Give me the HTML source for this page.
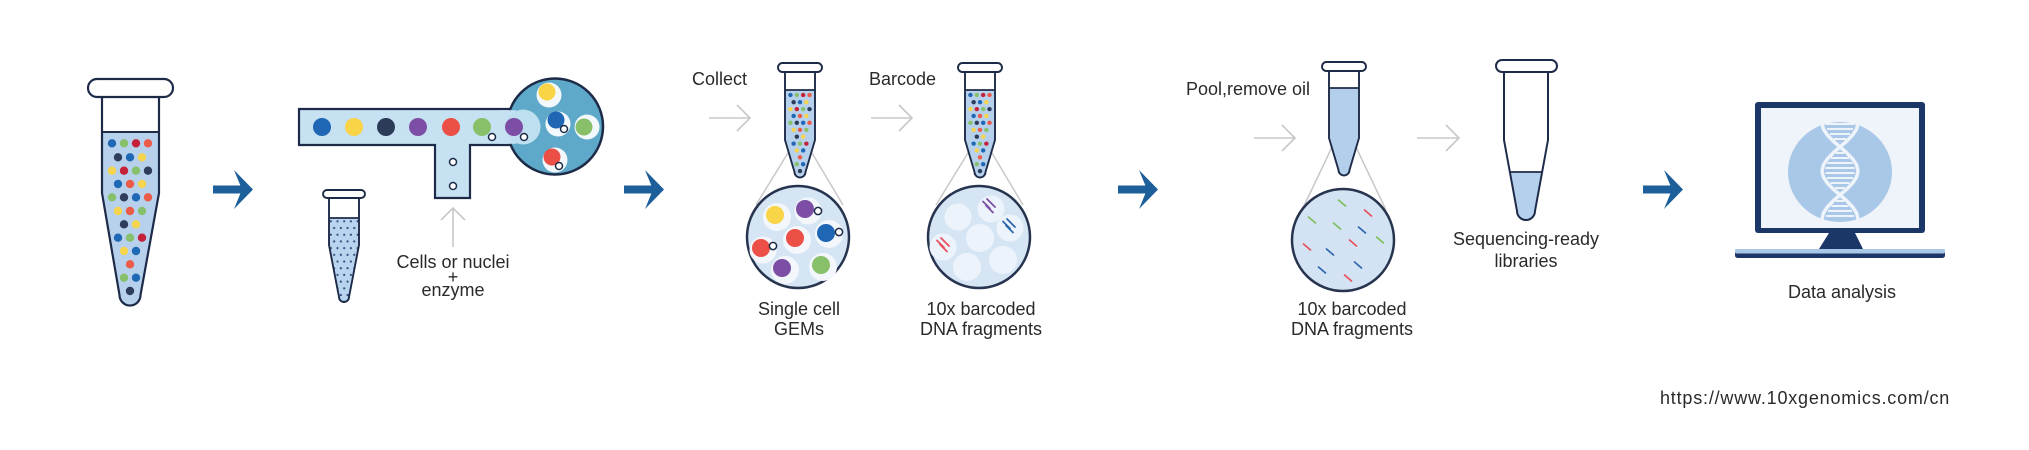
<!DOCTYPE html>
<html>
<head>
<meta charset="utf-8">
<style>
  html, body { margin: 0; padding: 0; background: #ffffff; }
  body { width: 2029px; height: 450px; overflow: hidden; }
  svg { display: block; }
  text { font-family: "Liberation Sans", sans-serif; font-size: 18px; fill: #2a2a2a; }
</style>
</head>
<body>
<svg width="2029" height="450" viewBox="0 0 2029 450" xmlns="http://www.w3.org/2000/svg">
  <defs>
    <g id="dots">
      <circle cx="112" cy="143.3" r="4.2" fill="#1f68b5"/>
      <circle cx="124" cy="143.3" r="4.2" fill="#86c06b"/>
      <circle cx="136" cy="143.3" r="4.2" fill="#c4213b"/>
      <circle cx="148" cy="143.3" r="4.2" fill="#ec5a48"/>
      <circle cx="118" cy="157.3" r="4.2" fill="#2e3d5a"/>
      <circle cx="130" cy="157.3" r="4.2" fill="#1f68b5"/>
      <circle cx="142" cy="157.3" r="4.2" fill="#f5d44e"/>
      <circle cx="112" cy="170.7" r="4.2" fill="#f5d44e"/>
      <circle cx="124" cy="170.7" r="4.2" fill="#c4213b"/>
      <circle cx="136" cy="170.7" r="4.2" fill="#86c06b"/>
      <circle cx="148" cy="170.7" r="4.2" fill="#2e3d5a"/>
      <circle cx="118" cy="184" r="4.2" fill="#1f68b5"/>
      <circle cx="130" cy="184" r="4.2" fill="#ec5a48"/>
      <circle cx="142" cy="184" r="4.2" fill="#f5d44e"/>
      <circle cx="112" cy="197.3" r="4.2" fill="#86c06b"/>
      <circle cx="124" cy="197.3" r="4.2" fill="#2e3d5a"/>
      <circle cx="136" cy="197.3" r="4.2" fill="#1f68b5"/>
      <circle cx="148" cy="197.3" r="4.2" fill="#ec5a48"/>
      <circle cx="118" cy="211" r="4.2" fill="#f5d44e"/>
      <circle cx="130" cy="211" r="4.2" fill="#ec5a48"/>
      <circle cx="142" cy="211" r="4.2" fill="#86c06b"/>
      <circle cx="124" cy="224.3" r="4.2" fill="#2e3d5a"/>
      <circle cx="136" cy="224.3" r="4.2" fill="#f5d44e"/>
      <circle cx="118" cy="237.7" r="4.2" fill="#1f68b5"/>
      <circle cx="130" cy="237.7" r="4.2" fill="#86c06b"/>
      <circle cx="142" cy="237.7" r="4.2" fill="#c4213b"/>
      <circle cx="124" cy="251" r="4.2" fill="#f5d44e"/>
      <circle cx="136" cy="251" r="4.2" fill="#1f68b5"/>
      <circle cx="130" cy="264.3" r="4.2" fill="#ec5a48"/>
      <circle cx="124" cy="277.7" r="4.2" fill="#86c06b"/>
      <circle cx="136" cy="277.7" r="4.2" fill="#1f68b5"/>
      <circle cx="130" cy="291" r="4.2" fill="#2e3d5a"/>
    </g>
    <pattern id="dotpat" x="329" y="218" width="6.7" height="13.4" patternUnits="userSpaceOnUse">
      <circle cx="1.8" cy="3.3" r="1.1" fill="#2e4a7a"/>
      <circle cx="5.15" cy="10" r="1.1" fill="#2e4a7a"/>
    </pattern>
  </defs>

  <rect x="0" y="0" width="2029" height="450" fill="#ffffff"/>

  <!-- ===== Tube 1 ===== -->
  <path d="M102,97 V193 L119.5,295 A10.5,10.5 0 0 0 140.5,295 L159,193 V97 Z" fill="#b7d1ec"/>
  <rect x="102" y="97" width="57" height="35" fill="#ffffff"/>
  <use href="#dots"/>
  <line x1="102" y1="132" x2="159" y2="132" stroke="#1d2b48" stroke-width="2"/>
  <path d="M102,97 V193 L119.5,295 A10.5,10.5 0 0 0 140.5,295 L159,193 V97" fill="none" stroke="#1d2b48" stroke-width="2.2" stroke-linejoin="round"/>
  <rect x="88" y="79" width="85" height="18" rx="9" fill="#ffffff" stroke="#1d2b48" stroke-width="2.2"/>

  <!-- Big arrows -->
  <g fill="#1c5f9a">
    <rect x="213" y="185.5" width="29" height="8"/>
    <polygon points="234,170 253,189.5 234,209 242,189.5"/>
    <rect x="624" y="185.5" width="29" height="8"/>
    <polygon points="645,170 664,189.5 645,209 653,189.5"/>
    <rect x="1118" y="185.5" width="29" height="8"/>
    <polygon points="1139,170 1158,189.5 1139,209 1147,189.5"/>
    <rect x="1643" y="185.5" width="29" height="8"/>
    <polygon points="1664,170 1683,189.5 1664,209 1672,189.5"/>
  </g>

  <!-- ===== Microfluidic chip ===== -->
  <polygon points="299,109 515,109 515,145 470,145 470,198 435,198 435,145 299,145" fill="#c5e1f2"/>
  <path d="M515,109 H299 V145 H435 V198 H470 V145 H515" fill="none" stroke="#1d2b48" stroke-width="2.2"/>
  <circle cx="555" cy="126.5" r="48" fill="#5ea9c9" stroke="#1d2b48" stroke-width="2.5"/>
  <rect x="500" y="110.2" width="16" height="33.6" fill="#c5e1f2"/>
  <circle cx="523" cy="127" r="17.5" fill="#bedff0"/>
  <!-- channel cells -->
  <circle cx="322" cy="127" r="9" fill="#1f66b4"/>
  <circle cx="354" cy="127" r="9" fill="#f8d446"/>
  <circle cx="386" cy="127" r="9" fill="#2c3b57"/>
  <circle cx="418" cy="127" r="9" fill="#7d4ea5"/>
  <circle cx="451" cy="127" r="9" fill="#ec4f45"/>
  <circle cx="482" cy="127" r="9" fill="#88c06a"/>
  <circle cx="514" cy="127" r="9" fill="#7d4ea5"/>
  <g fill="#ffffff" stroke="#1d2b48" stroke-width="1.5">
    <circle cx="492" cy="137" r="3.5"/>
    <circle cx="524" cy="137" r="3.5"/>
    <circle cx="453" cy="162" r="3.5"/>
    <circle cx="453" cy="186" r="3.5"/>
  </g>
  <!-- droplets in big circle -->
  <g fill="#f2f8fc">
    <circle cx="549" cy="95" r="12.5"/>
    <circle cx="558" cy="124" r="12.5"/>
    <circle cx="587" cy="127" r="12.5"/>
    <circle cx="555" cy="160" r="12.5"/>
  </g>
  <circle cx="547" cy="92" r="8.5" fill="#f8d446"/>
  <circle cx="556" cy="120" r="8.5" fill="#1f66b4"/>
  <circle cx="584" cy="127" r="8.5" fill="#88c06a"/>
  <circle cx="552" cy="157" r="8.5" fill="#ec4f45"/>
  <g fill="#ffffff" stroke="#1d2b48" stroke-width="1.5">
    <circle cx="564" cy="129" r="3.5"/>
    <circle cx="559" cy="166" r="3.5"/>
  </g>

  <!-- Small tube -->
  <path d="M329,198 V245 L339,297 A5,5 0 0 0 349,297 L359,245 V198 Z" fill="#b9d4ee"/>
  <path d="M329,198 V245 L339,297 A5,5 0 0 0 349,297 L359,245 V198 Z" fill="url(#dotpat)"/>
  <rect x="329" y="198" width="30" height="20" fill="#ffffff"/>
  <line x1="329" y1="218" x2="359" y2="218" stroke="#1d2b48" stroke-width="1.8"/>
  <path d="M329,198 V245 L339,297 A5,5 0 0 0 349,297 L359,245 V198" fill="none" stroke="#1d2b48" stroke-width="1.9" stroke-linejoin="round"/>
  <rect x="323" y="190" width="42" height="8" rx="4" fill="#ffffff" stroke="#1d2b48" stroke-width="1.9"/>

  <!-- Up gray arrow -->
  <g stroke="#c8c8c8" stroke-width="1.6" fill="none">
    <line x1="453" y1="247" x2="453" y2="208"/>
    <polyline points="441,220 453,208 465,220"/>
  </g>
  <text x="453" y="268" text-anchor="middle">Cells or nuclei</text>
  <text x="453" y="283" text-anchor="middle">+</text>
  <text x="453" y="296" text-anchor="middle">enzyme</text>

  <!-- ===== Collect step ===== -->
  <text x="692" y="85">Collect</text>
  <g stroke="#c8c8c8" stroke-width="1.6" fill="none">
    <line x1="709" y1="118" x2="750" y2="118"/>
    <polyline points="737,105 750,118 737,131"/>
    <line x1="871" y1="118" x2="912" y2="118"/>
    <polyline points="899,105 912,118 899,131"/>
    <line x1="1254" y1="138" x2="1295" y2="138"/>
    <polyline points="1282,125 1295,138 1282,151"/>
    <line x1="1417" y1="138" x2="1459" y2="138"/>
    <polyline points="1446,125 1459,138 1446,151"/>
  </g>

  <!-- cone lines -->
  <g stroke="#c8c8c8" stroke-width="1.5">
    <line x1="791" y1="148" x2="756" y2="205"/>
    <line x1="809" y1="148" x2="843" y2="205"/>
    <line x1="971" y1="148" x2="936" y2="205"/>
    <line x1="989" y1="148" x2="1023" y2="205"/>
    <line x1="1334" y1="143" x2="1302" y2="210"/>
    <line x1="1354" y1="143" x2="1386" y2="210"/>
  </g>

  <!-- Tube 3 -->
  <path d="M785,72 V140 L794.5,172 A5.5,5.5 0 0 0 805.5,172 L815,140 V72 Z" fill="#b7d1ec"/>
  <rect x="785" y="72" width="30" height="18" fill="#ffffff"/>
  <use href="#dots" transform="translate(800,95) scale(0.53,0.515) translate(-130,-143.3)"/>
  <line x1="785" y1="90" x2="815" y2="90" stroke="#1d2b48" stroke-width="1.8"/>
  <path d="M785,72 V140 L794.5,172 A5.5,5.5 0 0 0 805.5,172 L815,140 V72" fill="none" stroke="#1d2b48" stroke-width="1.9" stroke-linejoin="round"/>
  <rect x="778" y="63" width="44" height="9" rx="4.5" fill="#ffffff" stroke="#1d2b48" stroke-width="1.9"/>

  <!-- Circle 3 (GEMs) -->
  <circle cx="798" cy="237" r="51" fill="#d6e5f4" stroke="#27344f" stroke-width="2.5"/>
  <g fill="#f3f7fc">
    <circle cx="777" cy="217" r="14"/>
    <circle cx="808" cy="211" r="13.5"/>
    <circle cx="829" cy="234" r="14"/>
    <circle cx="797" cy="240" r="14"/>
    <circle cx="763" cy="250" r="13.5"/>
    <circle cx="785" cy="270" r="14"/>
    <circle cx="823" cy="267" r="14"/>
  </g>
  <circle cx="775" cy="215" r="9" fill="#f8d446"/>
  <circle cx="805" cy="209" r="9" fill="#7d4ea5"/>
  <circle cx="826" cy="233" r="9" fill="#1f66b4"/>
  <circle cx="795" cy="238" r="9" fill="#ec4f45"/>
  <circle cx="761" cy="248" r="9" fill="#ec4f45"/>
  <circle cx="782" cy="268" r="9" fill="#7d4ea5"/>
  <circle cx="821" cy="265" r="9" fill="#88c06a"/>
  <g fill="#ffffff" stroke="#1d2b48" stroke-width="1.5">
    <circle cx="818" cy="211" r="3.6"/>
    <circle cx="839" cy="232" r="3.6"/>
    <circle cx="773" cy="246" r="3.6"/>
  </g>
  <text x="799" y="315" text-anchor="middle">Single cell</text>
  <text x="799" y="335" text-anchor="middle">GEMs</text>

  <!-- ===== Barcode step ===== -->
  <text x="869" y="85">Barcode</text>
  <!-- Tube 4 -->
  <path d="M965,72 V140 L974.5,172 A5.5,5.5 0 0 0 985.5,172 L995,140 V72 Z" fill="#b7d1ec"/>
  <rect x="965" y="72" width="30" height="18" fill="#ffffff"/>
  <use href="#dots" transform="translate(980,95) scale(0.53,0.515) translate(-130,-143.3)"/>
  <line x1="965" y1="90" x2="995" y2="90" stroke="#1d2b48" stroke-width="1.8"/>
  <path d="M965,72 V140 L974.5,172 A5.5,5.5 0 0 0 985.5,172 L995,140 V72" fill="none" stroke="#1d2b48" stroke-width="1.9" stroke-linejoin="round"/>
  <rect x="958" y="63" width="44" height="9" rx="4.5" fill="#ffffff" stroke="#1d2b48" stroke-width="1.9"/>

  <!-- Circle 4 -->
  <circle cx="979" cy="237" r="51" fill="#d6e5f4" stroke="#27344f" stroke-width="2.5"/>
  <g fill="#edf3fa">
    <circle cx="958" cy="217" r="13.5"/>
    <circle cx="991" cy="209" r="13.5"/>
    <circle cx="1010" cy="228" r="13.5"/>
    <circle cx="980" cy="238" r="14"/>
    <circle cx="943" cy="247" r="13.5"/>
    <circle cx="967" cy="267" r="14"/>
    <circle cx="1003" cy="260" r="14"/>
  </g>
  <g stroke="#7d4ea5" stroke-width="1.8" stroke-linecap="round">
    <line x1="983" y1="201.5" x2="990" y2="208.5"/>
    <line x1="987" y1="199" x2="995" y2="207"/>
    <line x1="986" y1="205.5" x2="993" y2="212.5"/>
  </g>
  <g stroke="#2e67b0" stroke-width="1.8" stroke-linecap="round">
    <line x1="1003" y1="221.5" x2="1010" y2="228.5"/>
    <line x1="1007" y1="219" x2="1015" y2="227"/>
    <line x1="1006" y1="225.5" x2="1013" y2="232.5"/>
  </g>
  <g stroke="#e8505b" stroke-width="1.8" stroke-linecap="round">
    <line x1="937" y1="240.5" x2="944" y2="247.5"/>
    <line x1="941" y1="238" x2="949" y2="246"/>
    <line x1="940" y1="244.5" x2="947" y2="251.5"/>
  </g>
  <text x="981" y="315" text-anchor="middle">10x barcoded</text>
  <text x="981" y="335" text-anchor="middle">DNA fragments</text>

  <!-- ===== Pool step ===== -->
  <text x="1186" y="95">Pool,remove oil</text>
  <!-- Tube 5 -->
  <path d="M1329,71 V138 L1338.5,170 A5.5,5.5 0 0 0 1349.5,170 L1359,138 V71 Z" fill="#b4cfeb"/>
  <rect x="1329" y="71" width="30" height="17" fill="#ffffff"/>
  <line x1="1329" y1="88" x2="1359" y2="88" stroke="#1d2b48" stroke-width="1.8"/>
  <path d="M1329,71 V138 L1338.5,170 A5.5,5.5 0 0 0 1349.5,170 L1359,138 V71" fill="none" stroke="#1d2b48" stroke-width="1.9" stroke-linejoin="round"/>
  <rect x="1322" y="62" width="44" height="9" rx="4.5" fill="#ffffff" stroke="#1d2b48" stroke-width="1.9"/>

  <!-- Circle 5 -->
  <circle cx="1343" cy="240" r="51" fill="#d4e3f3" stroke="#27344f" stroke-width="2.5"/>
  <g stroke-width="1.7" stroke-linecap="round">
    <g stroke="#7cbf5f">
      <line x1="1338.5" y1="200" x2="1345.5" y2="206"/>
      <line x1="1308.5" y1="217" x2="1315.5" y2="223"/>
      <line x1="1333.5" y1="223" x2="1340.5" y2="229"/>
      <line x1="1376.5" y1="237" x2="1383.5" y2="243"/>
    </g>
    <g stroke="#e8505b">
      <line x1="1364.5" y1="210" x2="1371.5" y2="216"/>
      <line x1="1303.5" y1="244" x2="1310.5" y2="250"/>
      <line x1="1349.5" y1="240" x2="1356.5" y2="246"/>
      <line x1="1344.5" y1="275" x2="1351.5" y2="281"/>
    </g>
    <g stroke="#2e67b0">
      <line x1="1358.5" y1="227" x2="1365.5" y2="233"/>
      <line x1="1326.5" y1="249" x2="1333.5" y2="255"/>
      <line x1="1318.5" y1="267" x2="1325.5" y2="273"/>
      <line x1="1354.5" y1="262" x2="1361.5" y2="268"/>
    </g>
  </g>
  <text x="1352" y="315" text-anchor="middle">10x barcoded</text>
  <text x="1352" y="335" text-anchor="middle">DNA fragments</text>

  <!-- Tube 6 -->
  <path d="M1504,72 V140 L1517,211 A9,9 0 0 0 1535,211 L1548,140 V72 Z" fill="#b5d0ec"/>
  <rect x="1503" y="72" width="46" height="100" fill="#ffffff"/>
  <line x1="1510" y1="172" x2="1542" y2="172" stroke="#1d2b48" stroke-width="1.8"/>
  <path d="M1504,72 V140 L1517,211 A9,9 0 0 0 1535,211 L1548,140 V72" fill="none" stroke="#1d2b48" stroke-width="2" stroke-linejoin="round"/>
  <rect x="1496" y="60" width="61" height="12" rx="6" fill="#ffffff" stroke="#1d2b48" stroke-width="2"/>
  <text x="1526" y="245" text-anchor="middle">Sequencing-ready</text>
  <text x="1526" y="267" text-anchor="middle">libraries</text>

  <!-- ===== Monitor ===== -->
  <rect x="1755" y="102" width="170" height="131" rx="3" fill="#1b3768"/>
  <rect x="1761" y="108" width="158" height="120" fill="#eef4fa"/>
  <ellipse cx="1840" cy="172" rx="52" ry="50" fill="#a9c8e8"/>
  <g fill="none" stroke="#eef4fa" stroke-width="3.5" stroke-linejoin="round" stroke-linecap="round">
    <polyline points="1823.4,117 1822,123 1823.4,129 1827.3,135 1833.1,141 1840,147 1846.9,153 1852.7,159 1856.6,165 1858,171 1856.6,177 1852.7,183 1846.9,189 1840,195 1833.1,201 1827.3,207 1823.4,213 1822,219 1822.3,222"/>
    <polyline points="1856.6,117 1858,123 1856.6,129 1852.7,135 1846.9,141 1840,147 1833.1,153 1827.3,159 1823.4,165 1822,171 1823.4,177 1827.3,183 1833.1,189 1840,195 1846.9,201 1852.7,207 1856.6,213 1858,219 1857.7,222"/>
  </g>
  <g stroke="#eef4fa" stroke-width="2">
    <line x1="1825.5" y1="124" x2="1854.5" y2="124"/>
    <line x1="1827" y1="129" x2="1853" y2="129"/>
    <line x1="1830" y1="134" x2="1850" y2="134"/>
    <line x1="1834" y1="139" x2="1846" y2="139"/>
    <line x1="1836" y1="153" x2="1844" y2="153"/>
    <line x1="1831" y1="158" x2="1849" y2="158"/>
    <line x1="1827.5" y1="163" x2="1852.5" y2="163"/>
    <line x1="1825.5" y1="168" x2="1854.5" y2="168"/>
    <line x1="1825.5" y1="173" x2="1854.5" y2="173"/>
    <line x1="1827" y1="178" x2="1853" y2="178"/>
    <line x1="1830.5" y1="183" x2="1849.5" y2="183"/>
    <line x1="1835" y1="188" x2="1845" y2="188"/>
    <line x1="1836" y1="201" x2="1844" y2="201"/>
    <line x1="1831.5" y1="206" x2="1848.5" y2="206"/>
    <line x1="1828" y1="211" x2="1852" y2="211"/>
    <line x1="1826" y1="216" x2="1854" y2="216"/>
  </g>
  <polygon points="1829,233 1855,233 1863,249 1819,249" fill="#1b3768"/>
  <rect x="1735" y="249" width="210" height="9" rx="2.5" fill="#1b3768"/>
  <rect x="1735" y="249" width="210" height="4.5" rx="1.5" fill="#a9c8e8"/>
  <text x="1842" y="298" text-anchor="middle">Data analysis</text>

  <!-- URL -->
  <text x="1660" y="404" letter-spacing="0.8">https://www.10xgenomics.com/cn</text>
</svg>
</body>
</html>
